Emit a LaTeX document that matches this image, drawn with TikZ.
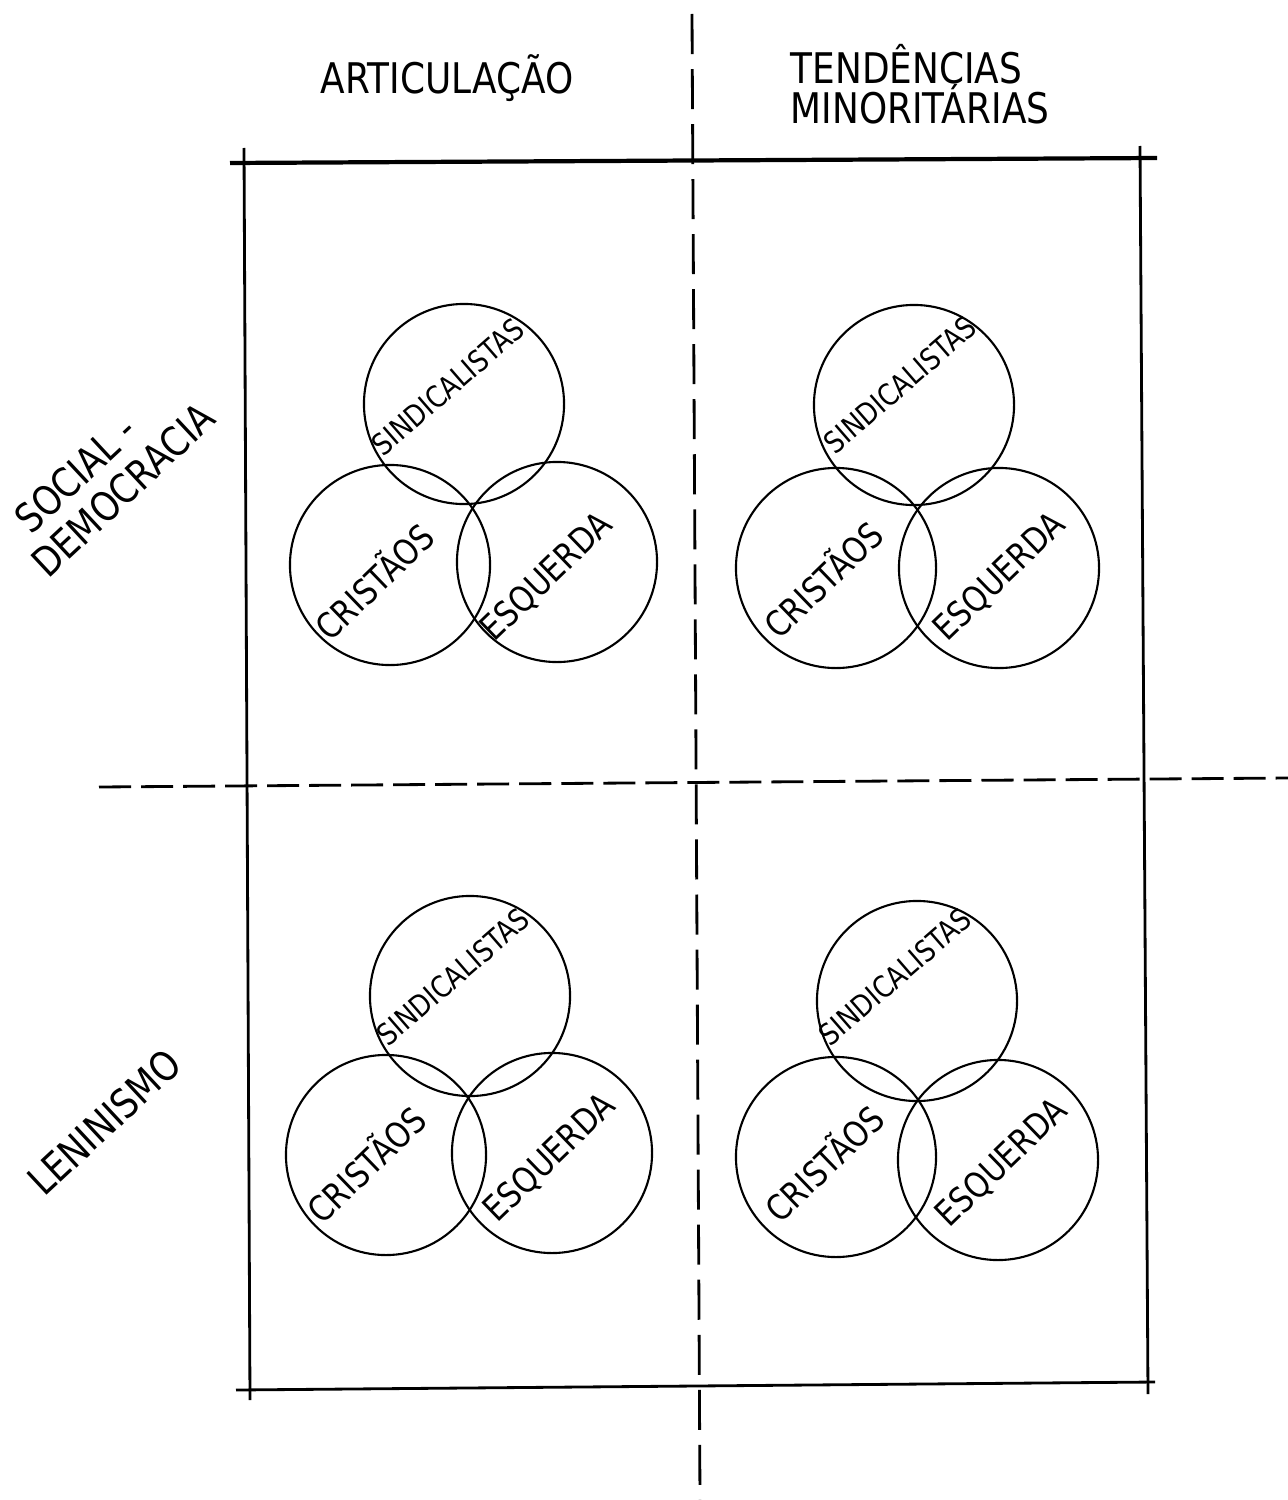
\documentclass[tikz,border=0pt]{standalone}
\usepackage{fontspec}
\newfontfamily\handfont{DejaVu Sans}[FakeStretch=0.85]

\begin{document}
\begin{tikzpicture}[x=0.01cm, y=-0.01cm,
    venn/.style={draw, circle, line width=0.6pt, minimum size=2cm, inner sep=0pt},
    frame/.style={line width=0.8pt},
    split/.style={line width=0.8pt, dash pattern=on 4mm off 1.5mm},
    head/.style={font=\handfont\fontsize{12}{11.5}\selectfont, align=left},
    side/.style={font=\handfont\fontsize{11.5}{12.5}\selectfont, align=left, rotate=43, inner sep=1pt},
    sind/.style={font=\handfont\fontsize{8.5}{10}\selectfont, rotate=41, inner sep=1pt},
    grp/.style={font=\handfont\fontsize{10}{12}\selectfont, rotate=44, inner sep=1pt}
]
\useasboundingbox (0,0) rectangle (1288,1500);

\coordinate (tl) at (230,163);
\coordinate (tr) at (1157,158);
\coordinate (bl) at (236,1390);
\coordinate (br) at (1155,1382);
\coordinate (lt) at (244,148);
\coordinate (lb) at (250,1400);
\coordinate (rt) at (1140,146);
\coordinate (rb) at (1148,1394);
\coordinate (vt) at (692,14);
\coordinate (vb) at (700,1500);
\coordinate (hl) at (99,787);
\coordinate (hr) at (1288,778);

\draw[frame, line width=1.2pt] (tl) -- (tr);
\draw[frame] (bl) -- (br);
\draw[frame] (lt) -- (lb);
\draw[frame] (rt) -- (rb);
\draw[split] (vt) -- (vb);
\draw[split, dash pattern=on 3.2mm off 1mm] (hl) -- (hr);

\node[head] (artic) at (447,78) {ARTICULAÇÃO};
\node[head] (tend) at (920,84) {TENDÊNCIAS\\MINORITÁRIAS};
\node[side] (socdem) at (108,474) {\hspace{5pt}SOCIAL -\\DEMOCRACIA};
\node[side] (lenin) at (104,1122) {LENINISMO};

\node[venn] (sind1) at (464,404) {};
\node[venn] (cris1) at (390,565) {};
\node[venn] (esq1) at (557,562) {};
\node[sind] (sindtxt1) at (448,387) {SINDICALISTAS};
\node[grp] (cristxt1) at (373,580) {CRISTÃOS};
\node[grp] (esqtxt1) at (547,577) {ESQUERDA};

\node[venn] (sind2) at (914,405) {};
\node[venn] (cris2) at (836,568) {};
\node[venn] (esq2) at (999,568) {};
\node[sind] (sindtxt2) at (900,385) {SINDICALISTAS};
\node[grp] (cristxt2) at (822,578) {CRISTÃOS};
\node[grp] (esqtxt2) at (1000,577) {ESQUERDA};

\node[venn] (sind3) at (470,996) {};
\node[venn] (cris3) at (386,1155) {};
\node[venn] (esq3) at (552,1153) {};
\node[sind] (sindtxt3) at (453,977) {SINDICALISTAS};
\node[grp] (cristxt3) at (365,1163) {CRISTÃOS};
\node[grp] (esqtxt3) at (550,1158) {ESQUERDA};

\node[venn] (sind4) at (917,1001) {};
\node[venn] (cris4) at (836,1157) {};
\node[venn] (esq4) at (998,1160) {};
\node[sind] (sindtxt4) at (895,977) {SINDICALISTAS};
\node[grp] (cristxt4) at (823,1162) {CRISTÃOS};
\node[grp] (esqtxt4) at (1002,1163) {ESQUERDA};
\end{tikzpicture}
\end{document}
